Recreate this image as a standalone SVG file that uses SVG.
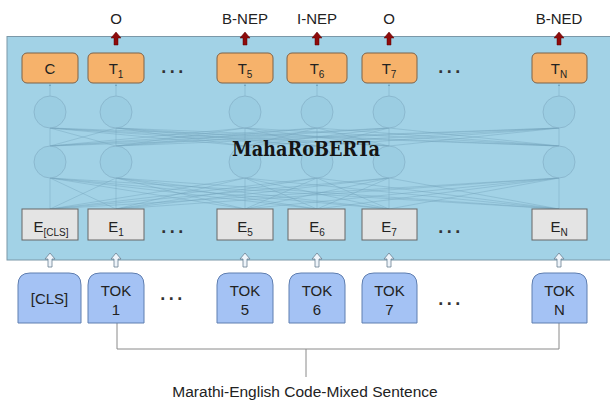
<svg xmlns="http://www.w3.org/2000/svg" width="610" height="401" viewBox="0 0 610 401">
<style>
text{font-family:"Liberation Sans",Arial,sans-serif;fill:#222}
.lbl{font-size:15px;text-anchor:middle}
.t{fill:#f6b26b;stroke:#7d6249;stroke-width:1}
.e{fill:#e4e4e4;stroke:#666;stroke-width:1}
.tok{fill:#a4c2f4;stroke:#5f7eb0;stroke-width:1}
.cir{fill:#95c8df;fill-opacity:0.55;stroke:#86b3c9;stroke-width:0.8}
.net{fill:none;stroke:#73a3bb;stroke-width:0.6;stroke-opacity:0.7}
.brk{fill:none;stroke:#8a8a8a;stroke-width:1}
.dots{font-size:18px;font-weight:bold;letter-spacing:3.5px;text-anchor:middle;fill:#333}
.red{fill:#8e0b0b;stroke:#5a0000;stroke-width:0.5}
.hol{fill:#eef4fa;stroke:#6b8193;stroke-width:0.8}
.big{font-size:15px}
.sub{font-size:10px}
</style>
<defs>
<path id="ra" d="M0 32L5 38L2 38L2 45L-2 45L-2 38L-5 38Z"/>
<path id="ha" d="M0 253L5 259L2 259L2 267L-2 267L-2 259L-5 259Z"/>
<marker id="sa" markerWidth="4" markerHeight="4" refX="2" refY="2" orient="auto"><path d="M0 0L4 2L0 4Z" fill="#73a3bb"/></marker>
</defs>
<rect id="bg" x="7" y="36.5" width="610" height="223.5" fill="#a2d2e6" stroke="#7b98a8" stroke-width="1"/>
<g id="network">
<path class="net" d="M50 209L50 178M50 209L116 178M50 209L245 178M50 209L317 178M50 209L389 178M50 209L559 178M116 209L50 178M116 209L116 178M116 209L245 178M116 209L317 178M116 209L389 178M116 209L559 178M245 209L50 178M245 209L116 178M245 209L245 178M245 209L317 178M245 209L389 178M245 209L559 178M317 209L50 178M317 209L116 178M317 209L245 178M317 209L317 178M317 209L389 178M317 209L559 178M389 209L50 178M389 209L116 178M389 209L245 178M389 209L317 178M389 209L389 178M389 209L559 178M559 209L50 178M559 209L116 178M559 209L245 178M559 209L317 178M559 209L389 178M559 209L559 178"/>
<path class="net" d="M50 146L50 128M50 146L116 128M50 146L245 128M50 146L317 128M50 146L389 128M50 146L559 128M116 146L50 128M116 146L116 128M116 146L245 128M116 146L317 128M116 146L389 128M116 146L559 128M245 146L50 128M245 146L116 128M245 146L245 128M245 146L317 128M245 146L389 128M245 146L559 128M317 146L50 128M317 146L116 128M317 146L245 128M317 146L317 128M317 146L389 128M317 146L559 128M389 146L50 128M389 146L116 128M389 146L245 128M389 146L317 128M389 146L389 128M389 146L559 128M559 146L50 128M559 146L116 128M559 146L245 128M559 146L317 128M559 146L389 128M559 146L559 128"/>
<path class="net" marker-end="url(#sa)" d="M50 96L50 85"/>
<path class="net" marker-end="url(#sa)" d="M116 96L116 85"/>
<path class="net" marker-end="url(#sa)" d="M245 96L245 85"/>
<path class="net" marker-end="url(#sa)" d="M317 96L317 85"/>
<path class="net" marker-end="url(#sa)" d="M389 96L389 85"/>
<path class="net" marker-end="url(#sa)" d="M559 96L559 85"/>
<g id="circles">
<circle class="cir" cx="50" cy="112" r="16"/><circle class="cir" cx="116" cy="112" r="16"/><circle class="cir" cx="245" cy="112" r="16"/><circle class="cir" cx="317" cy="112" r="16"/><circle class="cir" cx="389" cy="112" r="16"/><circle class="cir" cx="559" cy="112" r="16"/>
<circle class="cir" cx="50" cy="162" r="16"/><circle class="cir" cx="116" cy="162" r="16"/><circle class="cir" cx="245" cy="162" r="16"/><circle class="cir" cx="317" cy="162" r="16"/><circle class="cir" cx="389" cy="162" r="16"/><circle class="cir" cx="559" cy="162" r="16"/>
</g>
</g>
<text id="title" x="232" y="156" textLength="148" lengthAdjust="spacingAndGlyphs" style="font-family:'DejaVu Serif',serif;font-weight:bold;font-size:20px;fill:#151515">MahaRoBERTa</text>
<g id="outputs">
<use href="#ra" x="116" class="red"/><use href="#ra" x="245" class="red"/><use href="#ra" x="317" class="red"/><use href="#ra" x="389" class="red"/><use href="#ra" x="559" class="red"/>
<text class="lbl" x="116" y="24">O</text>
<text class="lbl" x="245" y="24">B-NEP</text>
<text class="lbl" x="317" y="24">I-NEP</text>
<text class="lbl" x="389" y="24">O</text>
<text class="lbl" x="559" y="24">B-NED</text>
</g>
<g id="T_C"><rect class="t" x="22" y="53" width="56" height="30" rx="5"/><text class="lbl big" x="50" y="74">C</text></g>
<g id="T_1"><rect class="t" x="88" y="53" width="56" height="30" rx="5"/><text class="lbl big" x="116" y="74">T<tspan class="sub" dy="4">1</tspan></text></g>
<g id="T_5"><rect class="t" x="217" y="53" width="56" height="30" rx="5"/><text class="lbl big" x="245" y="74">T<tspan class="sub" dy="4">5</tspan></text></g>
<g id="T_6"><rect class="t" x="287" y="53" width="60" height="30" rx="5"/><text class="lbl big" x="317" y="74">T<tspan class="sub" dy="4">6</tspan></text></g>
<g id="T_7"><rect class="t" x="362" y="53" width="55" height="30" rx="5"/><text class="lbl big" x="389" y="74">T<tspan class="sub" dy="4">7</tspan></text></g>
<g id="T_N"><rect class="t" x="532" y="53" width="55" height="30" rx="5"/><text class="lbl big" x="559" y="74">T<tspan class="sub" dy="4">N</tspan></text></g>
<text class="dots" x="174" y="73">...</text>
<text class="dots" x="451" y="73">...</text>
<g id="E_CLS"><rect class="e" x="22" y="209" width="56" height="31"/><text class="lbl big" x="51" y="232">E<tspan class="sub" dy="4">[CLS]</tspan></text></g>
<g id="E_1"><rect class="e" x="88" y="209" width="56" height="31"/><text class="lbl big" x="116" y="232">E<tspan class="sub" dy="4">1</tspan></text></g>
<g id="E_5"><rect class="e" x="217" y="209" width="56" height="31"/><text class="lbl big" x="245" y="232">E<tspan class="sub" dy="4">5</tspan></text></g>
<g id="E_6"><rect class="e" x="288" y="209" width="57" height="31"/><text class="lbl big" x="317" y="232">E<tspan class="sub" dy="4">6</tspan></text></g>
<g id="E_7"><rect class="e" x="362" y="209" width="55" height="31"/><text class="lbl big" x="389" y="232">E<tspan class="sub" dy="4">7</tspan></text></g>
<g id="E_N"><rect class="e" x="532" y="209" width="55" height="31"/><text class="lbl big" x="559" y="232">E<tspan class="sub" dy="4">N</tspan></text></g>
<text class="dots" x="174" y="233">...</text>
<text class="dots" x="451" y="233">...</text>
<g id="connectors">
<use href="#ha" x="50" class="hol"/><use href="#ha" x="116" class="hol"/><use href="#ha" x="245" class="hol"/><use href="#ha" x="317" class="hol"/><use href="#ha" x="389" class="hol"/><use href="#ha" x="559" class="hol"/>
<path class="brk" d="M117 323V349H559V323M306 349V377"/>
</g>
<g id="TOK_CLS"><path class="tok" d="M18 323V285Q18 273 30 273H69Q81 273 81 285V323Z"/><text class="lbl" x="49.5" y="304">[CLS]</text></g>
<g id="TOK_1"><path class="tok" d="M88 323V285Q88 273 100 273H132Q144 273 144 285V323Z"/><text class="lbl" x="116" y="296">TOK</text><text class="lbl" x="116" y="315">1</text></g>
<g id="TOK_5"><path class="tok" d="M217 323V285Q217 273 229 273H261Q273 273 273 285V323Z"/><text class="lbl" x="245" y="296">TOK</text><text class="lbl" x="245" y="315">5</text></g>
<g id="TOK_6"><path class="tok" d="M289 323V285Q289 273 301 273H333Q345 273 345 285V323Z"/><text class="lbl" x="317" y="296">TOK</text><text class="lbl" x="317" y="315">6</text></g>
<g id="TOK_7"><path class="tok" d="M362 323V285Q362 273 374 273H405Q417 273 417 285V323Z"/><text class="lbl" x="389.5" y="296">TOK</text><text class="lbl" x="389.5" y="315">7</text></g>
<g id="TOK_N"><path class="tok" d="M532 323V285Q532 273 544 273H575Q587 273 587 285V323Z"/><text class="lbl" x="559.5" y="296">TOK</text><text class="lbl" x="559.5" y="315">N</text></g>
<text class="dots" x="173" y="300">...</text>
<text class="dots" x="451" y="305">...</text>
<text class="lbl" x="305" y="397" style="font-size:15.5px">Marathi-English Code-Mixed Sentence</text>
</svg>
